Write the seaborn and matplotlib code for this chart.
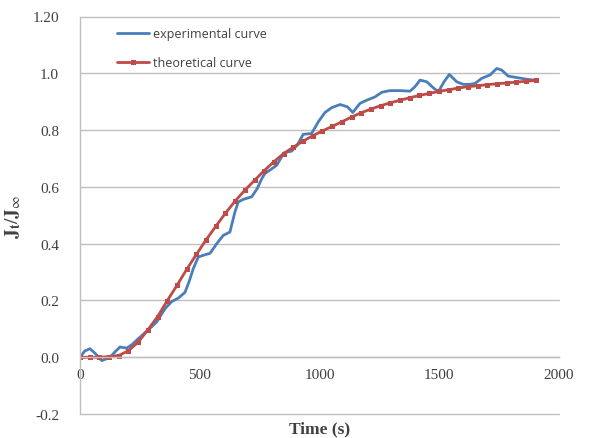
import matplotlib
matplotlib.use("Agg")
import matplotlib.pyplot as plt
import seaborn as sns
import pandas as pd

# ---------------- data ----------------
theory_time = [0, 40, 81, 121, 162, 202, 243, 283, 324, 364, 405, 445, 486, 526,
               567, 607, 648, 688, 729, 769, 810, 850, 891, 931, 972, 1012, 1053,
               1093, 1134, 1174, 1215, 1255, 1296, 1336, 1377, 1417, 1458, 1498,
               1539, 1579, 1620, 1660, 1701, 1741, 1782, 1822, 1863, 1903]
theory_value = [0.000, 0.000, 0.000, 0.002, 0.006, 0.023, 0.053, 0.096, 0.143,
                0.199, 0.253, 0.309, 0.362, 0.413, 0.461, 0.507, 0.550, 0.588,
                0.623, 0.657, 0.689, 0.717, 0.740, 0.761, 0.780, 0.797, 0.813,
                0.829, 0.846, 0.861, 0.874, 0.886, 0.896, 0.905, 0.914, 0.922,
                0.929, 0.936, 0.942, 0.948, 0.953, 0.956, 0.960, 0.963, 0.966,
                0.969, 0.972, 0.975]

exp_time = [0, 20, 42, 65, 91, 112, 132, 150, 167, 195, 218, 243, 278, 320, 355,
            383, 410, 438, 455, 473, 494, 515, 543, 571, 598, 626, 647, 661, 682,
            717, 740, 759, 772, 793, 821, 852, 884, 907, 932, 967, 995, 1023,
            1051, 1086, 1116, 1139, 1169, 1197, 1232, 1260, 1294, 1336, 1378,
            1399, 1420, 1448, 1475, 1496, 1520, 1542, 1573, 1600, 1628, 1649,
            1677, 1712, 1740, 1761, 1788, 1823, 1865, 1909]
exp_value = [0.000, 0.022, 0.030, 0.012, -0.012, -0.005, 0.006, 0.022, 0.036,
             0.032, 0.045, 0.065, 0.091, 0.124, 0.171, 0.196, 0.208, 0.228,
             0.265, 0.312, 0.353, 0.359, 0.366, 0.400, 0.429, 0.441, 0.512,
             0.547, 0.556, 0.565, 0.594, 0.629, 0.647, 0.659, 0.676, 0.720,
             0.726, 0.747, 0.785, 0.788, 0.829, 0.862, 0.879, 0.890, 0.882,
             0.862, 0.894, 0.905, 0.917, 0.933, 0.939, 0.939, 0.937, 0.953,
             0.976, 0.970, 0.949, 0.935, 0.970, 0.996, 0.970, 0.961, 0.961,
             0.964, 0.982, 0.994, 1.017, 1.011, 0.990, 0.985, 0.979, 0.975]

x_ticks = [0, 500, 1000, 1500, 2000]
x_tick_labels = ["0", "500", "1000", "1500", "2000"]
y_ticks = [-0.2, 0.0, 0.2, 0.4, 0.6, 0.8, 1.0, 1.2]
y_tick_labels = ["-0.2", "0.0", "0.2", "0.4", "0.6", "0.8", "1.0", "1.20"]

series_labels = ["experimental curve", "theoretical curve"]

# ---------------- style ----------------
sns.set_theme(style="white")
plt.rcParams["font.family"] = ["Liberation Serif", "DejaVu Serif"]
plt.rcParams["mathtext.fontset"] = "stix"

BLUE = "#4A7EBB"
RED = "#BE4B48"
GRID = "#BFBFBF"
TXT = "#404040"

df_exp = pd.DataFrame({"t": exp_time, "v": exp_value})
df_th = pd.DataFrame({"t": theory_time, "v": theory_value})

fig = plt.figure(figsize=(5.89, 4.39), dpi=100)
ax = fig.add_axes([80 / 589, 1 - 415 / 439, 479 / 589, 397.5 / 439])

sns.lineplot(data=df_exp, x="t", y="v", ax=ax, color=BLUE, linewidth=2.0,
             label=series_labels[0], sort=False, solid_joinstyle="round")
sns.lineplot(data=df_th, x="t", y="v", ax=ax, color=RED, linewidth=2.0,
             marker="s", markersize=3.6, markeredgewidth=0,
             label=series_labels[1], sort=False)

ax.set_xlim(0, 2000)
ax.set_ylim(-0.2, 1.2)

ax.set_yticks(y_ticks)
ax.set_yticklabels(y_tick_labels)
ax.set_xticks(x_ticks)
ax.set_xticklabels(x_tick_labels)

ax.tick_params(axis="both", length=0, labelsize=11, colors=TXT)
ax.tick_params(axis="y", pad=15)
ax.tick_params(axis="x", pad=8)

ax.grid(axis="y", color=GRID, linewidth=1.0)
ax.grid(axis="x", visible=False)
for gl in ax.get_ygridlines():
    gl.set_clip_on(False)

ax.spines["top"].set_visible(False)
ax.spines["right"].set_visible(False)
ax.spines["left"].set_color(GRID)
ax.spines["left"].set_linewidth(1.0)
ax.spines["bottom"].set_position(("data", 0.0))
ax.spines["bottom"].set_color(GRID)
ax.spines["bottom"].set_linewidth(1.0)

ax.set_xlabel("Time (s)", fontsize=12.5, fontweight="bold", color=TXT,
              va="center")
ax.xaxis.set_label_coords(0.5, -0.036)
ax.set_ylabel(r"$\mathbf{J}_\mathbf{t}/\mathbf{J}_\infty$", fontsize=14,
              color=TXT)
ax.yaxis.set_label_coords(-0.12, 0.5)

leg = ax.legend(loc="upper left", bbox_to_anchor=(0.058, 0.995), frameon=False,
                prop={"family": "Open Sans", "size": 9},
                handlelength=2.6, handletextpad=0.3, labelspacing=1.3,
                borderpad=0.2)
for t in leg.get_texts():
    t.set_color(TXT)

fig.savefig("out.png", dpi=100, facecolor="white")
